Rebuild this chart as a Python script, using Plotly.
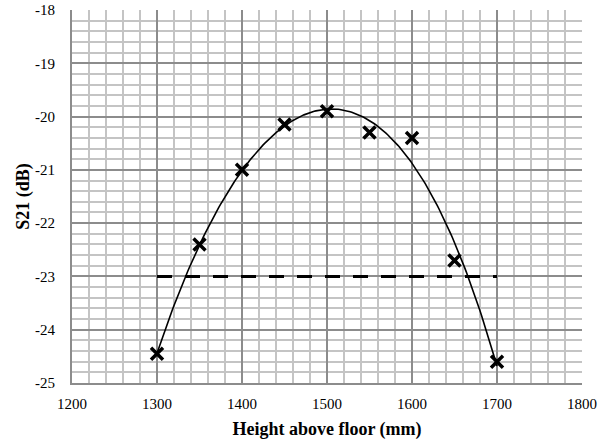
import numpy as np
import plotly.graph_objects as go

# Measured S21 versus receiver height
height_mm = [1300, 1350, 1400, 1450, 1500, 1550, 1600, 1650, 1700]
s21_db = [-24.45, -22.4, -21.0, -20.15, -19.9, -20.3, -20.4, -22.7, -24.6]

# Threshold level shown as a dashed reference
threshold_x = [1300, 1700]
threshold_db = [-23, -23]

# Axis tick labels
x_ticks = [1200, 1300, 1400, 1500, 1600, 1700, 1800]
y_ticks = [-25, -24, -23, -22, -21, -20, -19, -18]

# Polynomial trendline through the measurements
coeffs = np.polyfit(height_mm, s21_db, 4)
trend_x = np.linspace(min(height_mm), max(height_mm), 200)
trend_y = np.polyval(coeffs, trend_x)

fig = go.Figure()
fig.add_trace(go.Scatter(x=threshold_x, y=threshold_db, mode="lines",
                         line=dict(color="black", width=3, dash="15px,13px"),
                         hoverinfo="skip"))
fig.add_trace(go.Scatter(x=trend_x, y=trend_y, mode="lines",
                         line=dict(color="black", width=1.6), hoverinfo="skip"))
fig.add_trace(go.Scatter(x=height_mm, y=s21_db, mode="markers",
                         marker=dict(symbol="x-thin", size=12, color="black",
                                     line=dict(color="black", width=3.5))))

serif = "Liberation Serif"
font = dict(family=serif, size=15, color="black")
fig.update_layout(
    width=613, height=443,
    margin=dict(l=72, r=31, t=10, b=60),
    paper_bgcolor="white", plot_bgcolor="white",
    showlegend=False, font=font,
)
fig.update_xaxes(
    range=[1200, 1800], tickvals=x_ticks, ticktext=[str(v) for v in x_ticks],
    tickfont=dict(family=serif, size=15, color="black"),
    showgrid=True, gridcolor="#8c8c8c", gridwidth=2,
    minor=dict(dtick=20, showgrid=True, gridcolor="#c4c4c4", gridwidth=2),
    showline=True, linecolor="#8c8c8c", linewidth=2,
    ticks="", zeroline=False, ticklabelstandoff=6, automargin=False,
    title=dict(text="<b>Height above floor (mm)</b>", standoff=11),
)
fig.update_yaxes(
    range=[-25, -18], tickvals=y_ticks, ticktext=[str(v) for v in y_ticks],
    tickfont=dict(family=serif, size=15, color="black"),
    showgrid=True, gridcolor="#8c8c8c", gridwidth=2,
    minor=dict(dtick=0.2, showgrid=True, gridcolor="#c4c4c4", gridwidth=2),
    showline=True, linecolor="#8c8c8c", linewidth=2,
    ticks="", zeroline=False, ticklabelstandoff=12, automargin=False,
    title=dict(text="<b>S21 (dB)</b>", standoff=1),
)

fig.write_html("out.html")
